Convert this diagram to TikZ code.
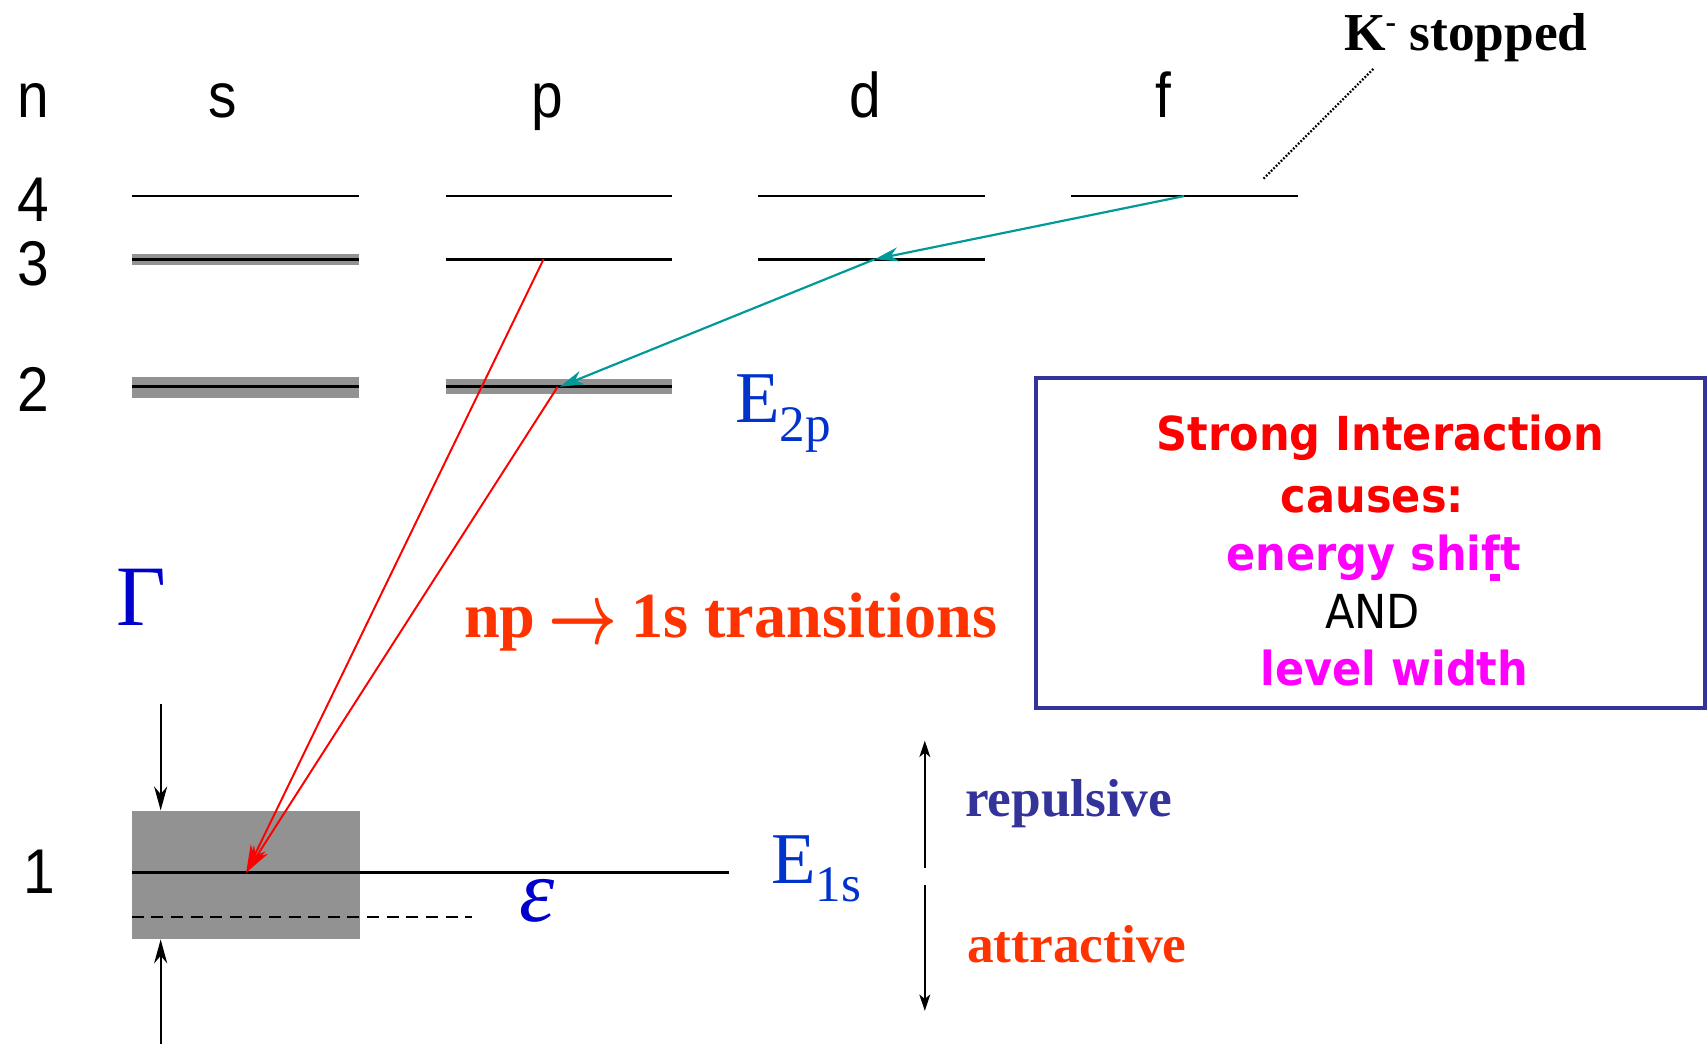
\documentclass[tikz,border=0pt]{standalone}
\usepackage{graphicx}
\usepackage{fontspec}
\usetikzlibrary{arrows.meta}
\setmainfont{Liberation Serif}
\newfontfamily\lsans{Liberation Sans}[FakeStretch=0.9]
\newfontfamily\tah{DejaVu Sans}[FakeStretch=0.92]
\newfontfamily\gkit{Liberation Serif Italic}
\definecolor{ebl}{RGB}{0,51,204}
\definecolor{gbl}{RGB}{0,0,204}
\definecolor{tl}{RGB}{0,153,153}
\definecolor{ored}{RGB}{255,51,0}
\definecolor{nvy}{RGB}{51,51,153}
\definecolor{mag}{RGB}{255,0,255}
\definecolor{band}{RGB}{146,146,146}
\newcommand{\bigarr}{\raisebox{-6pt}{\scalebox{5.5}[8]{\fontsize{10}{10}\selectfont\boldmath$\rightarrow$}}}
\tikzset{
  lvl/.style={line width=2.4pt, black},
  txt/.style={inner sep=0pt, outer sep=0pt, anchor=base},
  lab/.style={txt, font=\lsans\fontsize{58}{60}\selectfont},
  boxt/.style={txt, font=\tah\bfseries\fontsize{43}{45}\selectfont},
  redarr/.style={red, line width=1.8pt, -{Stealth[length=25pt,width=15pt,inset=8pt]}},
  tealarr/.style={tl, line width=2pt, -{Stealth[length=22pt,width=13pt,inset=7pt]}},
  blkarr/.style={black, line width=1.8pt, -{Stealth[length=22pt,width=12pt,inset=7pt]}},
  vtarr/.style={black, line width=1.8pt, -{Stealth[length=15pt,width=10pt,inset=4pt]}}
}
\begin{document}
\begin{tikzpicture}[x=1pt,y=-1pt]
\useasboundingbox[fill=white] (0,0) rectangle (1568,963);
% gray bands
\fill[band] (121,233) rectangle (330,243);
\fill[band] (121,346) rectangle (330,365);
\fill[band] (409,348) rectangle (617,362);
\node[fill=band, inner sep=0pt, minimum width=209pt, minimum height=118pt, anchor=north west] (box1s) at (121,744) {};
% levels n=4
\draw[lvl] (121,180) -- (330,180);
\draw[lvl] (409,180) -- (617,180);
\draw[lvl] (696,180) -- (904,180);
\draw[lvl] (983,180) -- (1192,180);
% n=3
\draw[lvl] (121,238) -- (330,238);
\draw[lvl] (409,238) -- (617,238);
\draw[lvl] (696,238) -- (904,238);
% n=2
\draw[lvl] (121,355) -- (330,355);
\draw[lvl] (409,355) -- (617,355);
% n=1
\draw[lvl] (121,801) -- (669,801);
\draw[black, line width=1.8pt, dash pattern=on 11pt off 7pt] (121,842) -- (433,842);
% coordinates
\coordinate (f4) at (1087,180);
\coordinate (d3) at (803,238);
\coordinate (p2) at (514,355);
\coordinate (p2r) at (512,355);
\coordinate (p3) at (499,238);
\coordinate (s1) at (226,801);
\coordinate (gt) at (147.5,646);
\coordinate (gb) at (147.5,958);
\coordinate (rt) at (849,680);
\coordinate (rm1) at (849,797);
\coordinate (rm2) at (849,812);
\coordinate (rb) at (849,928);
\coordinate (k1) at (1160,164);
\coordinate (k2) at (1261,63);
% transitions
\draw[tealarr] (f4) -- (d3);
\draw[tealarr] (d3) -- (p2);
\draw[redarr] (p3) -- (s1);
\draw[redarr] (p2r) -- (s1);
% width arrows
\draw[blkarr] (gt) -- (gt |- box1s.north);
\draw[blkarr] (gb) -- (gb |- box1s.south);
\draw[vtarr] (rm1) -- (rt);
\draw[vtarr] (rm2) -- (rb);
\draw[black, line width=2pt, dash pattern=on 1.6pt off 1.6pt] (k1) -- (k2);
% labels
\node[lab] (ln) at (31,108) {n};
\node[lab] (ls) at (204,108) {s};
\node[lab] (lp) at (502,108) {p};
\node[lab] (ld) at (794,108) {d};
\node[lab] (lf) at (1068,108) {f};
\node[lab] (l4) at (31,203.5) {4};
\node[lab] (l3) at (31,262) {3};
\node[lab] (l2) at (31,378) {2};
\node[lab] (l1) at (36,820) {1};
\node[txt, gbl, font=\fontsize{79}{80}\selectfont] (gam) at (130,574) {Γ};
\node[txt, anchor=base west, ebl, font=\fontsize{67}{68}\selectfont] (e2p) at (675,388) {E\raisebox{-17.5pt}{\fontsize{47}{47}\selectfont 2p}};
\node[txt, anchor=base west, ebl, font=\fontsize{67}{68}\selectfont] (e1s) at (708,811) {E\raisebox{-17pt}{\fontsize{47}{47}\selectfont 1s}};
\node[txt, gbl, font=\gkit\fontsize{82}{82}\selectfont] (eps) at (493,846) {ε};
\node[txt, anchor=base west, ored, font=\bfseries\fontsize{59}{60}\selectfont] (trans) at (426,585) {np\kern12pt\bigarr\kern12.5pt 1s transitions};
\node[txt, anchor=base west, font=\bfseries\fontsize{49}{50}\selectfont] (kst) at (1234,46) {K\raisebox{16pt}{\fontsize{29}{29}\selectfont -} stopped};
\node[txt, anchor=base west, nvy, font=\bfseries\fontsize{49}{50}\selectfont] (rep) at (886,750) {repulsive};
\node[txt, anchor=base west, ored, font=\bfseries\fontsize{49}{50}\selectfont] (att) at (888,884) {attractive};
% box
\draw[nvy, line width=3.8pt] (951,347) rectangle (1565,650);
\node[boxt, red] (si) at (1267,414) {Strong Interaction};
\node[boxt, red] (cs) at (1260,470.6) {causes:};
\node[boxt, mag] (es) at (1261,524) {energy shift};
\fill[mag] (1368,527) rectangle (1377,533);
\node[txt, font=\tah\fontsize{43}{45}\selectfont] (and) at (1260,577) {AND};
\node[boxt, mag] (lw) at (1280,629) {level width};
\end{tikzpicture}
\end{document}
